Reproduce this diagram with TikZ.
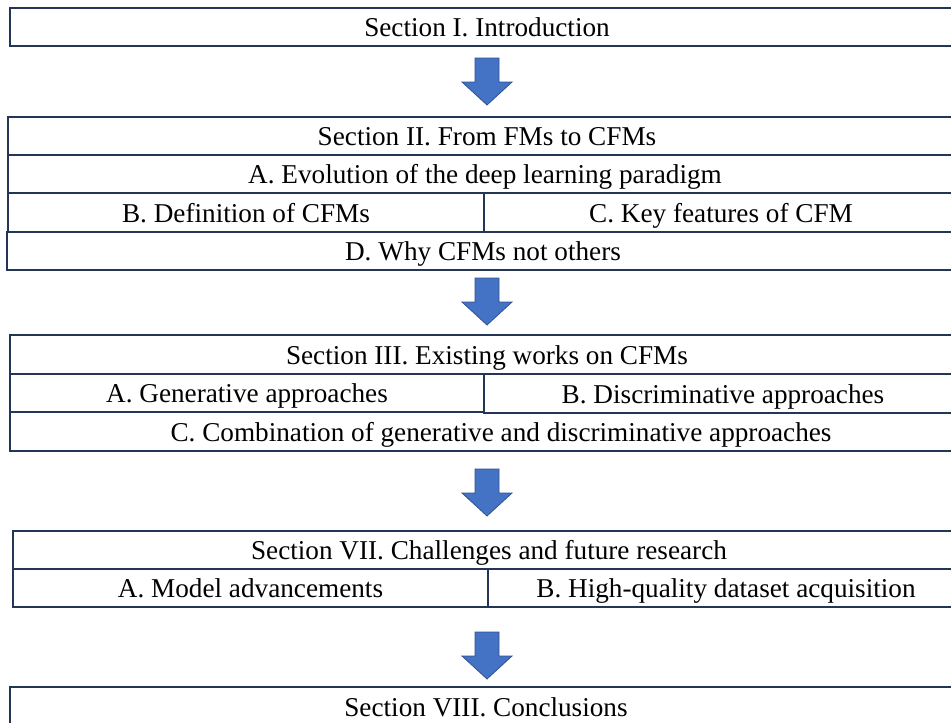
\documentclass[tikz,border=0pt]{standalone}
\usepackage{fontspec}
\setmainfont{Liberation Serif}
\definecolor{boxline}{HTML}{243656}
\definecolor{arrowfill}{HTML}{4472C4}
\definecolor{arrowline}{HTML}{2F528F}
\begin{document}
\begin{tikzpicture}[x=1pt,y=-1pt,
  cell/.style={draw=boxline,line width=1.5pt,fill=white,inner sep=0pt},
  label/.style={inner sep=0pt,text height=19.4pt,text depth=0pt,
    font=\fontsize{27.2}{31}\selectfont,text=black},
  bigarrow/.style={fill=arrowfill,draw=arrowline,line width=0.8pt,line join=miter}]
\useasboundingbox (0,0) rectangle (951,723);
% cell helper: name, left x, right x, top y, bottom y
\newcommand{\mycell}[5]{%
  \node[cell,minimum width={(#3)-(#2)},minimum height={(#5)-(#4)}]
    (#1) at ({((#2)+(#3))/2},{((#4)+(#5))/2}) {};}
% Section I
\mycell{s1}{10}{964}{8}{46}
\node[label] (t1) at (s1.center) {Section I. Introduction};
% Section II
\mycell{s2}{8}{966}{117}{155}
\node[label] (t2) at (s2.center) {Section II. From FMs to CFMs};
\mycell{s2a}{8}{962}{155}{193}
\node[label] (t2a) at (s2a.center) {A. Evolution of the deep learning paradigm};
\mycell{s2b}{8}{484}{193}{232}
\node[label] (t2b) at (s2b.center) {B. Definition of CFMs};
\mycell{s2c}{484}{958}{193}{232}
\node[label] (t2c) at (s2c.center) {C. Key features of CFM};
\mycell{s2d}{7}{959}{232}{270}
\node[label] (t2d) at (s2d.center) {D. Why CFMs not others};
% Section III
\mycell{s3}{10}{964}{335}{374}
\node[label] (t3) at (s3.center) {Section III. Existing works on CFMs};
\mycell{s3a}{10}{484}{374}{412}
\node[label] (t3a) at (s3a.center) {A. Generative approaches};
\mycell{s3c}{10}{992}{412}{451}
\node[label] (t3c) at (s3c.center) {C. Combination of generative and discriminative approaches};
\mycell{s3b}{484}{962}{374}{413}
\node[label] (t3b) at (s3b.center) {B. Discriminative approaches};
% Section VII
\mycell{s7}{13}{965}{531}{569}
\node[label] (t7) at (s7.center) {Section VII. Challenges and future research};
\mycell{s7a}{13}{488}{569}{607}
\node[label] (t7a) at (s7a.center) {A. Model advancements};
\mycell{s7b}{488}{964}{569}{607}
\node[label] (t7b) at (s7b.center) {B. High-quality dataset acquisition};
% Section VIII
\mycell{s8}{10}{962}{687}{730}
\node[label] (t8) at (486,706.5) {Section VIII. Conclusions};
% arrows
\foreach \name/\top in {a1/58, a2/278, a3/469, a4/632}{
  \coordinate (\name) at (487,\top);
  \draw[bigarrow] (\name) ++(-12,0) -- ++(24,0) -- ++(0,24) -- ++(13,0)
    -- ++(-25,23) -- ++(-25,-23) -- ++(13,0) -- cycle;
}
\end{tikzpicture}
\end{document}
